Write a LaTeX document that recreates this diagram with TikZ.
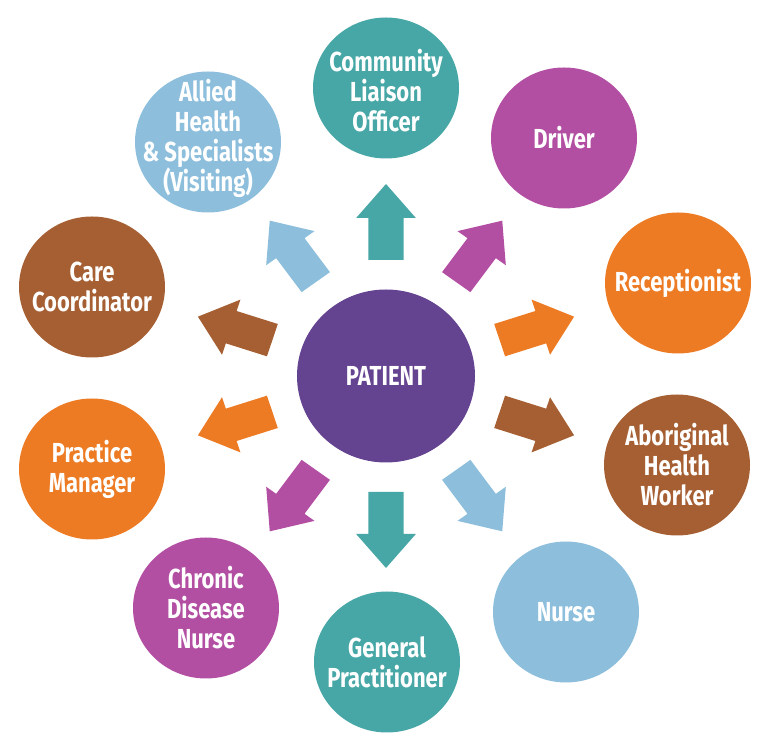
\documentclass[tikz,border=0pt]{standalone}
\usepackage{fontspec}
\newfontfamily\labfont{Fira Sans}[FakeStretch=0.8]
\usetikzlibrary{shapes.geometric}
\definecolor{cteal}{HTML}{47A7A6}
\definecolor{cmag}{HTML}{B34FA3}
\definecolor{corange}{HTML}{EC7B24}
\definecolor{cbrown}{HTML}{A65F32}
\definecolor{cblue}{HTML}{8DBFDD}
\definecolor{cpurple}{HTML}{644390}
\tikzset{
  role/.style={ellipse, fill=#1, draw=none, minimum width=146pt, minimum height=141pt,
    inner sep=0pt},
  hub/.style={ellipse, fill=cpurple, draw=none, minimum width=178pt, minimum height=173pt,
    inner sep=0pt},
  lab/.style={text=white, align=center, inner sep=0pt,
    font=\labfont\bfseries\fontsize{27.5}{30}\selectfont}
}
\newcommand\blockarrow[3]{% colour, angle, target (for reference)
  \begin{scope}[shift={(P.center)}, xscale=1.03, rotate=#2]
    \fill[#1] (116,-17) -- (158,-17) -- (158,-29) -- (192,0) -- (158,29) -- (158,17) -- (116,17) -- cycle;
  \end{scope}}
\begin{document}
\begin{tikzpicture}[x=1pt,y=1pt]
\useasboundingbox (0,0) rectangle (768,752);
\node[hub] (P) at (386,376) {};
\node[lab] (Pt) at (P) {PATIENT};
\node[role=cteal]   (CLO) at (386,664) {};
\node[role=cmag]    (DRV) at (564,614) {};
\node[role=corange] (REC) at (678,469) {};
\node[role=cbrown]  (AHW) at (677,287) {};
\node[role=cblue]   (NUR) at (566,140) {};
\node[role=cteal]   (GP)  at (387,90)  {};
\node[role=cmag]    (CDN) at (206,144) {};
\node[role=corange] (PM)  at (92,283)  {};
\node[role=cbrown]  (CC)  at (92,465)  {};
\node[role=cblue]   (AHS) at (208,610) {};
\node[lab] (CLOt) at ([yshift=-3pt]CLO) {Community\\Liaison\\Officer};
\node[lab] (DRVt) at (DRV) {Driver};
\node[lab] (RECt) at (REC) {Receptionist};
\node[lab] (AHWt) at (AHW) {Aboriginal\\Health\\Worker};
\node[lab] (NURt) at (NUR) {Nurse};
\node[lab] (GPt)  at (GP)  {General\\Practitioner};
\node[lab] (CDNt) at (CDN) {Chronic\\Disease\\Nurse};
\node[lab] (PMt)  at (PM)  {Practice\\Manager};
\node[lab] (CCt)  at (CC)  {Care\\Coordinator};
\node[lab] (AHSt) at ([yshift=4pt]AHS) {Allied\\Health\\\& Specialists\\(Visiting)};
\blockarrow{cteal}{90}{CLO}
\blockarrow{cmag}{54}{DRV}
\blockarrow{corange}{18}{REC}
\blockarrow{cbrown}{-18}{AHW}
\blockarrow{cblue}{-54}{NUR}
\blockarrow{cteal}{-90}{GP}
\blockarrow{cmag}{-126}{CDN}
\blockarrow{corange}{-162}{PM}
\blockarrow{cbrown}{162}{CC}
\blockarrow{cblue}{126}{AHS}
\end{tikzpicture}
\end{document}
